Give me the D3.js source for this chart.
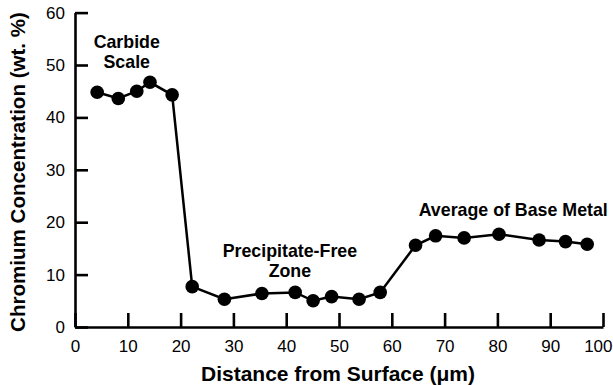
<!doctype html>
<html>
  <head>
    <meta charset="utf-8">
    <title>Chromium Concentration</title>
    <script src="https://cdnjs.cloudflare.com/ajax/libs/d3/7.8.5/d3.min.js"></script>
    <style>
      body { margin: 0; background: #fff; }
      svg { display: block; font-family: "Liberation Sans", Arial, sans-serif; }
    </style>
  </head>
  <body>
    <div id="my-svg-chart"></div>
    <script>
      // distance from surface (um) and chromium concentration (wt.%)
      const distance = [4.2, 8.2, 11.7, 14.2, 18.4, 22.2, 28.3, 35.4, 41.7, 45.1, 48.6, 53.8, 57.8, 64.5, 68.3, 73.7, 80.3, 87.9, 92.9, 97.0];
      const chromium = [44.8, 43.6, 45.0, 46.7, 44.3, 7.7, 5.3, 6.4, 6.6, 5.0, 5.8, 5.3, 6.6, 15.6, 17.4, 17.0, 17.7, 16.6, 16.3, 15.8];

      const xTicks = [0, 10, 20, 30, 40, 50, 60, 70, 80, 90, 100];
      const yTicks = [0, 10, 20, 30, 40, 50, 60];

      // annotation text, anchored at data coordinates
      const noteLines = [["Carbide", "Scale"], ["Precipitate-Free", "Zone"], ["Average of Base Metal"]];
      const noteX = [9.8, 40.7, 83];
      const noteY = [53.2, 13.3, 21.2];

      const width = 613, height = 385;

      const svg = d3.select('#my-svg-chart')
        .append('svg')
        .attr('width', width)
        .attr('height', height);

      const x = d3.scaleLinear().domain([0, 100]).range([75, 603]);
      const y = d3.scaleLinear().domain([0, 60]).range([327, 12.6]);

      // axes, ticks pointing inward
      const xAxis = svg.append('g')
        .attr('transform', `translate(0,${y(0)})`)
        .call(d3.axisBottom(x).tickValues(xTicks).tickSizeInner(-14).tickSizeOuter(0).tickPadding(13));

      const yAxis = svg.append('g')
        .attr('transform', `translate(${x(0)},0)`)
        .call(d3.axisLeft(y).tickValues(yTicks).tickSizeInner(-13).tickSizeOuter(0).tickPadding(10));

      [xAxis, yAxis].forEach(g => {
        g.select('.domain').attr('stroke', '#000').attr('stroke-width', 2.6);
        g.selectAll('.tick line').attr('stroke', '#000').attr('stroke-width', 2.6);
        g.selectAll('.tick text')
          .attr('fill', '#000')
          .style('font-size', '17px')
          .style('font-family', '"Liberation Sans", Arial, sans-serif');
      });

      // keep the last x label inside the frame
      xAxis.selectAll('.tick text')
        .filter(d => d === 100)
        .attr('text-anchor', 'end')
        .attr('x', 9);

      const points = distance.map((d, i) => ({x: d, y: chromium[i]}));

      const line = d3.line()
        .x(d => x(d.x))
        .y(d => y(d.y));

      svg.append('path')
        .datum(points)
        .attr('d', line)
        .attr('fill', 'none')
        .attr('stroke', '#000')
        .attr('stroke-width', 2.5);

      svg.selectAll('circle')
        .data(points)
        .join('circle')
        .attr('cx', d => x(d.x))
        .attr('cy', d => y(d.y))
        .attr('r', 6.8)
        .attr('fill', '#000');

      // annotations
      noteLines.forEach((lines, i) => {
        const t = svg.append('text')
          .attr('x', x(noteX[i]))
          .attr('y', y(noteY[i]))
          .attr('text-anchor', 'middle')
          .style('font-size', '17.8px')
          .style('font-weight', 'bold');
        lines.forEach((s, j) => {
          t.append('tspan')
            .attr('x', x(noteX[i]))
            .attr('dy', j === 0 ? 0 : 20)
            .text(s);
        });
      });

      // fit a title to a given length
      function fitText(sel, len) {
        const w = sel.node().getComputedTextLength();
        sel.style('font-size', (20 * len / w) + 'px');
      }

      // axis titles
      const xTitle = svg.append('text')
        .attr('x', 338)
        .attr('y', 381)
        .attr('text-anchor', 'middle')
        .style('font-size', '20px')
        .style('font-weight', 'bold')
        .text('Distance from Surface (\u03bcm)');
      fitText(xTitle, 274);

      const yTitle = svg.append('text')
        .attr('transform', 'translate(25,172) rotate(-90)')
        .attr('text-anchor', 'middle')
        .style('font-size', '20px')
        .style('font-weight', 'bold')
        .text('Chromium Concentration (wt. %)');
      fitText(yTitle, 320);
    </script>
  </body>
</html>
